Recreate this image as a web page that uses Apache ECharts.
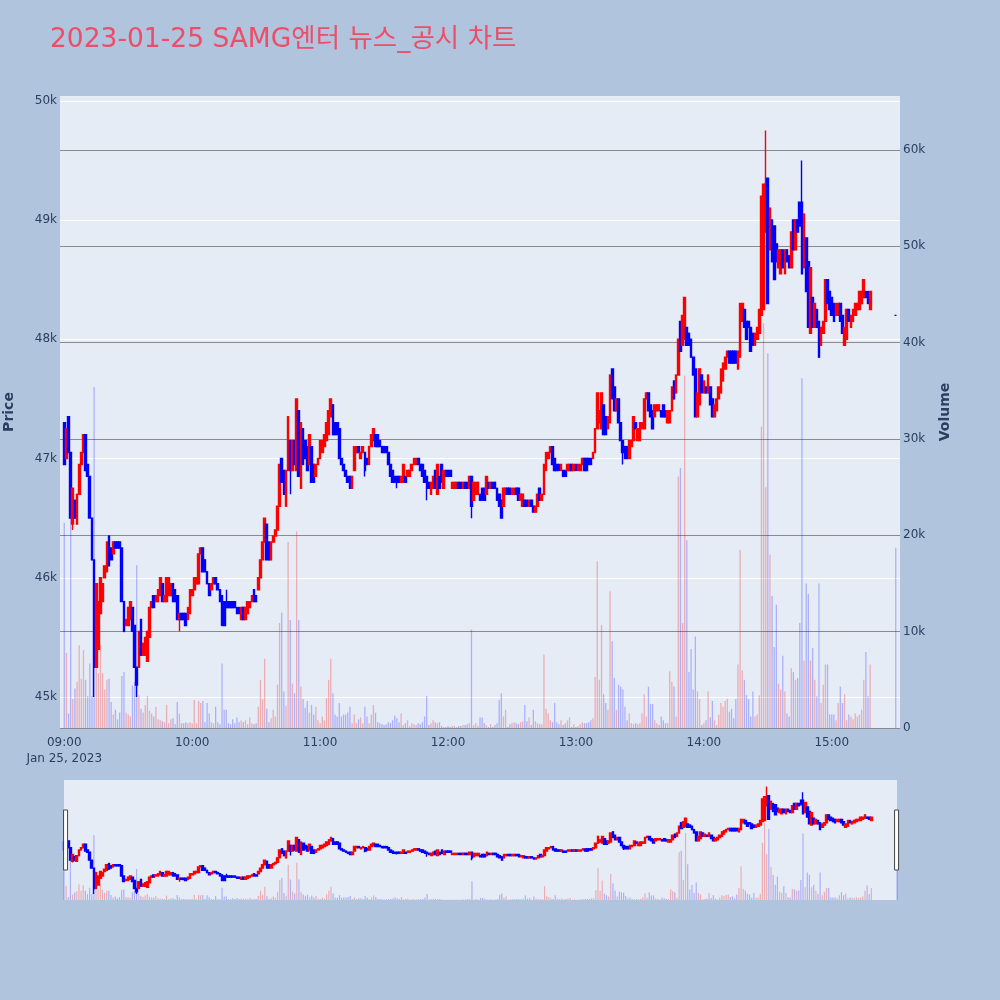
<!DOCTYPE html>
<html lang="ko" style="height: 100%">

<head>
  <meta charset="utf-8">
</head>

<body style="height: 100%; margin: 0; background: #b0c4de">
  <div id="container" style="width: 1000px; height: 1000px"></div>
  <script type="text/javascript" src="https://fastly.jsdelivr.net/npm/echarts@6/dist/echarts.min.js"></script>

  <script type="text/javascript">
    // 2023-01-25 SAMG엔터, 1분봉 (09:00 ~ 15:18) + 15:30 종가 단일가
    const opens = [
      47300, 47000, 47350, 47050, 46450, 46650, 46450, 46700, 46950, 47050, // 09:00
      47200, 46950, 46850, 46500, 46150, 45250, 45400, 45700, 45800, 46000,
      46050, 46350, 46250, 46200, 46300, 46300, 46300, 46250, 45800, 45600,
      45600, 45650, 45750, 45600, 45250, 45250, 45650, 45350, 45350, 45300,
      45500, 45750, 45850, 45800, 45800, 45850, 45950, 45800, 45800, 45850,
      45850, 45950, 45900, 45850, 45650, 45700, 45700, 45700, 45650, 45700,
      45850, 45900, 45950, 45950, 46200, 46250, 46150, 46050, 45950, 45900, // 10:00
      45950, 46000, 45950, 45900, 45850, 45800, 45800, 45800, 45800, 45800,
      45800, 45750, 45750, 45650, 45750, 45650, 45700, 45750, 45800, 45900,
      45850, 45900, 46000, 46150, 46300, 46450, 46300, 46150, 46300, 46350,
      46400, 46600, 47000, 46900, 46600, 46900, 47150, 46900, 47150, 46900,
      47400, 46750, 47250, 47150, 47100, 46950, 47100, 46950, 46850, 46950,
      47000, 47050, 47100, 47150, 47200, 47350, 47450, 47300, 47300, 47250, // 11:00
      47000, 46950, 46900, 46850, 46850, 46750, 46900, 47050, 47100, 47000,
      47050, 47050, 47000, 46950, 47100, 47150, 47200, 47200, 47150, 47100,
      47100, 47100, 47050, 46950, 46900, 46850, 46850, 46850, 46800, 46800,
      46850, 46850, 46850, 46900, 46950, 46950, 47000, 46950, 46950, 46900,
      46850, 46800, 46700, 46750, 46900, 46700, 46850, 46950, 46750, 46900,
      46900, 46900, 46750, 46750, 46750, 46800, 46800, 46750, 46800, 46800, // 12:00
      46750, 46850, 46650, 46700, 46700, 46700, 46750, 46750, 46700, 46800,
      46750, 46800, 46800, 46750, 46700, 46650, 46600, 46700, 46750, 46750,
      46700, 46700, 46750, 46750, 46650, 46600, 46650, 46650, 46600, 46650,
      46600, 46550, 46600, 46750, 46650, 46700, 46900, 47000, 47050, 47100,
      47000, 46950, 46950, 46900, 46900, 46900, 46900, 46900, 46950, 46900,
      46950, 46900, 46900, 46950, 47000, 47000, 47000, 47000, 47000, 47050, // 13:00
      47250, 47300, 47250, 47450, 47350, 47250, 47300, 47750, 47600, 47400,
      47500, 47300, 47150, 47100, 47100, 47000, 47100, 47150, 47300, 47150,
      47150, 47250, 47250, 47500, 47550, 47450, 47400, 47350, 47400, 47400,
      47400, 47450, 47400, 47300, 47300, 47400, 47650, 47550, 47700, 48150,
      47950, 48000, 48100, 48050, 48000, 47850, 47750, 47350, 47450, 47700,
      47550, 47600, 47550, 47600, 47500, 47350, 47400, 47500, 47550, 47650, // 14:00
      47750, 47850, 47900, 47900, 47900, 47900, 47750, 47850, 48150, 48250,
      48150, 48150, 48100, 48050, 47950, 48000, 48050, 48200, 48250, 48900,
      49350, 48750, 49000, 48950, 48800, 48600, 48550, 48750, 48550, 48750,
      48700, 48600, 49000, 48750, 49000, 49150, 49150, 48600, 48850, 48650,
      48050, 48350, 48100, 48250, 48150, 47950, 48050, 48150, 48500, 48400,
      48350, 48300, 48200, 48200, 48300, 48200, 47950, 48000, 48250, 48100, // 15:00
      48150, 48200, 48250, 48250, 48300, 48350, 48400, 48400, 48250
    ];
    const closes = [
      46950, 47250, 47050, 46500, 46750, 46500, 46700, 46950, 47050, 47200,
      46900, 46850, 46500, 46150, 45250, 45950, 45800, 46000, 45950, 46100,
      46300, 46100, 46150, 46300, 46250, 46250, 46250, 45800, 45550, 45650,
      45750, 45800, 45550, 45250, 45100, 45550, 45350, 45450, 45500, 45550,
      45750, 45800, 45750, 45850, 45900, 46000, 45800, 45850, 46000, 46000,
      45950, 45800, 45800, 45650, 45700, 45650, 45650, 45600, 45750, 45900,
      45900, 46000, 46000, 46200, 46250, 46050, 46050, 45950, 45850, 45950,
      46000, 45950, 45900, 45800, 45600, 45600, 45750, 45750, 45750, 45750,
      45750, 45700, 45700, 45750, 45650, 45750, 45800, 45800, 45850, 45800,
      45800, 46000, 46150, 46300, 46500, 46150, 46150, 46300, 46350, 46400,
      46600, 46950, 46800, 46700, 46900, 47350, 46900, 47150, 46950, 47500,
      46850, 47300, 46950, 47000, 46900, 47200, 46800, 46800, 46950, 47000,
      47150, 47150, 47200, 47300, 47400, 47500, 47200, 47200, 47200, 47000,
      46950, 46900, 46850, 46800, 46750, 46850, 47100, 47100, 47050, 47050,
      47100, 46900, 46950, 47100, 47200, 47250, 47100, 47100, 47100, 47050,
      47050, 47050, 46950, 46850, 46800, 46800, 46800, 46800, 46850, 46950,
      46800, 46900, 46900, 46950, 47000, 47000, 46950, 46900, 46850, 46800,
      46800, 46750, 46800, 46850, 46750, 46950, 46750, 46800, 46900, 46850,
      46850, 46850, 46800, 46800, 46800, 46750, 46750, 46800, 46750, 46750,
      46850, 46600, 46800, 46800, 46800, 46650, 46650, 46650, 46850, 46750,
      46800, 46750, 46750, 46650, 46600, 46500, 46750, 46750, 46700, 46700,
      46750, 46750, 46700, 46650, 46700, 46700, 46600, 46600, 46650, 46600,
      46550, 46600, 46700, 46650, 46700, 46950, 47050, 47050, 47100, 46950,
      46900, 46900, 46900, 46950, 46850, 46850, 46950, 46950, 46900, 46950,
      46900, 46950, 46950, 47000, 46900, 46900, 46950, 46950, 47050, 47250,
      47550, 47400, 47550, 47200, 47200, 47350, 47700, 47500, 47400, 47500,
      47300, 47150, 47050, 47000, 47000, 47150, 47150, 47350, 47250, 47250,
      47300, 47300, 47500, 47550, 47400, 47350, 47250, 47450, 47450, 47450,
      47350, 47350, 47350, 47400, 47400, 47600, 47500, 47700, 48000, 47900,
      48200, 48350, 47950, 47950, 47850, 47700, 47350, 47550, 47750, 47550,
      47650, 47550, 47700, 47450, 47350, 47450, 47500, 47600, 47750, 47800,
      47850, 47900, 47800, 47800, 47800, 47800, 47900, 48300, 48300, 48100,
      48000, 48100, 47900, 47950, 48050, 48100, 48250, 49200, 49300, 49300,
      48300, 49100, 48650, 48500, 48650, 48750, 48750, 48600, 48750, 48650,
      48600, 48900, 48750, 49000, 48900, 48950, 48550, 49050, 48400, 48100,
      48600, 48100, 48300, 48100, 47850, 48100, 48150, 48500, 48300, 48250,
      48200, 48150, 48300, 48300, 48150, 48050, 48100, 48250, 48150, 48200,
      48250, 48300, 48300, 48400, 48400, 48500, 48350, 48300, 48400
    ];
    const volumes = [
      21300, 7800, 1500, 22000, 3000, 4100, 4800, 8600, 5100, 8100,
      5000, 3300, 6700, 3300, 35400, 6700, 5700, 8600, 5700, 4000,
      5000, 5100, 2700, 1400, 1900, 900, 1600, 5400, 5800, 1600,
      1400, 1200, 4400, 4800, 16900, 3400, 2000, 1600, 2400, 3300,
      1800, 1500, 1200, 2200, 900, 800, 700, 600, 2400, 500,
      900, 1000, 400, 2700, 1500, 500, 500, 600, 500, 600,
      500, 2900, 500, 2800, 2600, 2800, 600, 2600, 1500, 600,
      500, 2200, 600, 400, 6700, 1900, 1900, 500, 400, 900,
      500, 1100, 600, 800, 600, 800, 400, 1100, 500, 400,
      500, 2200, 5000, 3000, 7200, 2000, 600, 1000, 1900, 1200,
      4500, 10900, 12000, 3800, 2300, 19300, 11200, 4600, 3600, 20400,
      11200, 4300, 3000, 2100, 2800, 1600, 2400, 1400, 2200, 800,
      500, 1200, 800, 3100, 5000, 7200, 3600, 1400, 1200, 2600,
      1200, 1400, 1400, 1600, 2200, 500, 1400, 500, 900, 1100,
      500, 2200, 1200, 500, 1400, 2400, 1600, 600, 500, 400,
      300, 400, 600, 500, 800, 1300, 1000, 600, 1500, 300,
      500, 800, 200, 500, 400, 300, 500, 400, 600, 1200,
      3300, 300, 500, 800, 600, 500, 600, 200, 100, 100,
      200, 100, 200, 200, 100, 200, 200, 300, 300, 400,
      500, 10200, 300, 500, 200, 1100, 1100, 500, 300, 100,
      400, 100, 300, 500, 2900, 3600, 1200, 1900, 100, 400,
      500, 600, 500, 400, 600, 700, 2400, 700, 1100, 300,
      1900, 700, 500, 400, 400, 7600, 2000, 1500, 800, 600,
      2600, 600, 400, 800, 300, 500, 800, 1100, 100, 400,
      100, 200, 400, 600, 500, 500, 600, 800, 1000, 5300,
      17300, 5000, 10700, 3500, 2600, 1900, 14200, 9000, 5200, 1900,
      4500, 4300, 4000, 2200, 800, 1500, 500, 400, 500, 400,
      500, 1500, 3500, 1200, 4300, 2500, 2500, 800, 500, 300,
      1200, 800, 500, 500, 5900, 4800, 4300, 1200, 26100, 27000,
      10900, 36600, 19500, 5800, 8200, 4000, 9500, 3800, 3000, 300,
      500, 800, 3800, 1100, 2800, 800, 300, 1400, 2600, 2200,
      2800, 3000, 1700, 2000, 1000, 3000, 6600, 18500, 6000, 5000,
      3400, 3000, 1200, 3800, 1200, 1400, 3400, 31300, 42000, 25000,
      38900, 18000, 13700, 8400, 12800, 4600, 4000, 7500, 3800, 1500,
      1200, 6200, 5800, 5000, 5200, 10900, 36300, 7000, 15000, 13900,
      7000, 8300, 5000, 3300, 15000, 2600, 4500, 6600, 6600, 1400,
      1400, 1400, 800, 2600, 4300, 2600, 3500, 800, 1400, 1200,
      900, 1500, 1200, 1400, 1900, 5000, 7900, 3300, 6600
    ];
    // 꼬리 (분 번호, 가격)
    const lowWicks = [[4, 46400], [14, 45000], [34, 45000], [54, 45550], [106, 46700], [141, 46850],
      [156, 46750], [170, 46650], [191, 46500], [262, 46950]];
    const highWicks = [[76, 45900], [329, 49750], [346, 49500]];
    // 종가 단일가
    const auctionTime = '15:30';
    const auctionPrice = 48200;
    const auctionVolume = 18700;

    const priceTicks = [45000, 46000, 47000, 48000, 49000, 50000];
    const volumeTicks = [0, 10000, 20000, 30000, 40000, 50000, 60000];
    const hourTicks = ['09:00', '10:00', '11:00', '12:00', '13:00', '14:00', '15:00'];
    const dateLabel = 'Jan 25, 2023';

    const UP = '#ff0000';
    const DOWN = '#0000ff';
    const UP_VOL = 'rgba(255,0,0,0.27)';
    const DOWN_VOL = 'rgba(0,0,255,0.25)';
    const FONT = "'DejaVu Sans', 'Noto Sans CJK KR', sans-serif";
    const TEXT = '#2a3f5f';

    function minuteLabel(m) {
      const t = 9 * 60 + m;
      const h = Math.floor(t / 60), mm = t % 60;
      return (h < 10 ? '0' : '') + h + ':' + (mm < 10 ? '0' : '') + mm;
    }

    // 시간 -> 봉
    const lowMap = new Map(lowWicks), highMap = new Map(highWicks);
    const bars = new Map();
    opens.forEach(function (o, i) {
      const c = closes[i];
      const lo = lowMap.has(i) ? lowMap.get(i) : Math.min(o, c);
      const hi = highMap.has(i) ? highMap.get(i) : Math.max(o, c);
      bars.set(minuteLabel(i), { k: [o, c, lo, hi], v: volumes[i], up: c > o });
    });
    bars.set(auctionTime, {
      k: [auctionPrice, auctionPrice, auctionPrice, auctionPrice], v: auctionVolume, up: false
    });

    // 메인 축: 08:58 ~ 15:32, 레인지 슬라이더: 09:00 ~ 15:30
    const mainTimes = [], miniTimes = [];
    for (let m = -2; m <= 392; m++) mainTimes.push(minuteLabel(m));
    for (let m = 0; m <= 390; m++) miniTimes.push(minuteLabel(m));

    function kData(times) {
      return times.map(t => bars.has(t) ? bars.get(t).k : '-');
    }
    function vData(times) {
      return times.map(function (t) {
        if (!bars.has(t)) return '-';
        const b = bars.get(t);
        return { value: b.v, itemStyle: { color: b.up ? UP_VOL : DOWN_VOL } };
      });
    }

    var dom = document.getElementById('container');
    var myChart = echarts.init(dom, null, { renderer: 'canvas' });

    const candleStyle = { color: UP, color0: DOWN, borderColor: UP, borderColor0: DOWN, borderWidth: 1.4 };

    var option = {
      backgroundColor: '#b0c4de',
      animation: false,
      textStyle: { fontFamily: FONT },
      title: {
        text: '2023-01-25 SAMG엔터 뉴스_공시 차트',
        left: 45,
        top: 22,
        textStyle: { fontFamily: FONT, fontSize: 26.5, fontWeight: 'normal', color: '#ec4e68' }
      },
      grid: [
        {
          left: 60, right: 100, top: 96, bottom: 272, show: true, backgroundColor: '#e5ecf6', borderWidth: 0,
          containLabel: false, outerBoundsMode: 'none'
        },
        {
          left: 64, right: 103, top: 780, height: 120, show: true, backgroundColor: '#e5ecf6', borderWidth: 0,
          containLabel: false, outerBoundsMode: 'none'
        }
      ],
      xAxis: [
        {
          type: 'category',
          gridIndex: 0,
          data: mainTimes,
          boundaryGap: false,
          axisLine: { show: false },
          axisTick: { show: false },
          splitLine: { show: false },
          axisLabel: {
            color: TEXT,
            fontSize: 12,
            margin: 7,
            lineHeight: 16,
            interval: (idx, val) => hourTicks.indexOf(val) >= 0,
            formatter: val => val === hourTicks[0] ? val + '\n' + dateLabel : val
          }
        },
        {
          type: 'category',
          gridIndex: 1,
          data: miniTimes,
          boundaryGap: false,
          show: false
        }
      ],
      yAxis: [
        {
          type: 'value',
          gridIndex: 0,
          position: 'left',
          min: 44740,
          max: 50040,
          name: 'Price',
          nameLocation: 'middle',
          nameGap: 44,
          nameTextStyle: { color: TEXT, fontSize: 14, fontWeight: 'bold' },
          axisLine: { show: false },
          axisTick: { show: false, customValues: priceTicks },
          axisLabel: {
            color: TEXT, fontSize: 12, margin: 3, customValues: priceTicks,
            formatter: v => (v / 1000) + 'k'
          },
          splitLine: { show: true, lineStyle: { color: '#ffffff', width: 1 } }
        },
        {
          type: 'value',
          gridIndex: 0,
          position: 'right',
          min: 0,
          max: 65600,
          name: 'Volume',
          nameLocation: 'middle',
          nameGap: 38,
          nameTextStyle: { color: TEXT, fontSize: 14, fontWeight: 'bold' },
          axisLine: { show: false },
          axisTick: { show: false, customValues: volumeTicks },
          axisLabel: {
            color: TEXT, fontSize: 12, margin: 3, customValues: volumeTicks,
            formatter: v => v === 0 ? '0' : (v / 1000) + 'k'
          },
          splitLine: { show: true, lineStyle: { color: '#8a8a8a', width: 1 } }
        },
        { type: 'value', gridIndex: 1, min: 44740, max: 50040, show: false, splitLine: { show: false } },
        { type: 'value', gridIndex: 1, min: 0, max: 65600, show: false, splitLine: { show: false } }
      ],
      dataZoom: [
        {
          type: 'slider',
          xAxisIndex: 0,
          filterMode: 'none',
          start: 0,
          end: 100,
          left: 64,
          right: 103,
          top: 780,
          height: 120,
          showDataShadow: false,
          showDetail: false,
          brushSelect: false,
          moveHandleSize: 0,
          backgroundColor: 'rgba(0,0,0,0)',
          fillerColor: 'rgba(0,0,0,0)',
          borderColor: 'rgba(0,0,0,0)',
          handleIcon: 'path://M0,0 L4,0 L4,60 L0,60 Z',
          handleSize: '50%',
          handleStyle: { color: '#ffffff', borderColor: '#444444', borderWidth: 1 }
        }
      ],
      series: [
        {
          name: 'Volume',
          type: 'bar',
          xAxisIndex: 0,
          yAxisIndex: 1,
          barWidth: 1.3,
          data: vData(mainTimes)
        },
        {
          name: 'Price',
          type: 'candlestick',
          xAxisIndex: 0,
          yAxisIndex: 0,
          barWidth: 2.2,
          itemStyle: candleStyle,
          data: kData(mainTimes)
        },
        {
          type: 'bar',
          xAxisIndex: 1,
          yAxisIndex: 3,
          barWidth: 1.2,
          data: vData(miniTimes)
        },
        {
          type: 'candlestick',
          xAxisIndex: 1,
          yAxisIndex: 2,
          barWidth: 2.2,
          itemStyle: candleStyle,
          data: kData(miniTimes)
        }
      ]
    };

    if (option && typeof option === 'object') {
      myChart.setOption(option);
    }

    window.addEventListener('resize', myChart.resize);
  </script>
</body>

</html>
